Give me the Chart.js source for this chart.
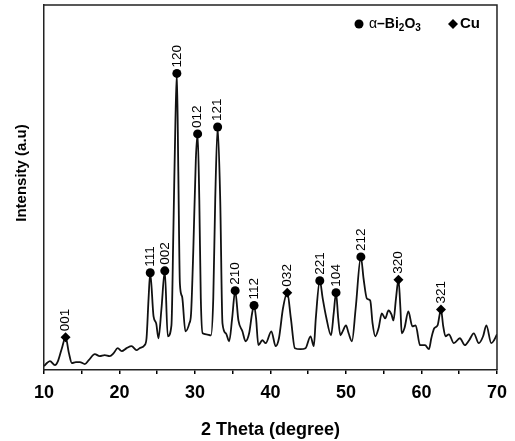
<!DOCTYPE html>
<html>
<head>
<meta charset="utf-8">
<script src="https://cdn.jsdelivr.net/npm/chart.js@4.4.1/dist/chart.umd.min.js"></script>
<style>
  html, body { margin: 0; padding: 0; background: #fff; }
  #box { width: 515px; height: 441px; }
</style>
</head>
<body>
<div id="box"><canvas id="xrd"></canvas></div>
<script>
const twoTheta = [
  10.00, 10.40, 10.79, 11.45, 11.85, 12.37, 12.86, 13.30, 13.69, 14.22,
  14.75, 15.41, 15.93, 16.73, 17.38, 18.04, 18.70, 19.23, 19.76, 20.29,
  20.95, 21.60, 22.26, 22.66, 23.32, 23.58, 23.85, 24.07, 24.51, 24.86,
  25.16, 25.56, 26.00, 26.39, 26.88, 27.14, 27.41, 27.60, 27.79, 28.00,
  28.29, 28.73, 29.25, 29.48, 29.78, 30.11, 30.35, 30.57, 30.77, 31.01,
  31.50, 32.12, 32.42, 32.68, 33.00, 33.34, 33.64, 34.09, 34.53, 34.92,
  35.32, 35.75, 36.28, 36.70, 37.17, 37.56, 37.82, 38.09, 38.39, 38.92,
  39.37, 40.11, 40.69, 41.12, 41.65, 42.22, 42.70, 43.23, 43.98, 44.64,
  45.30, 45.74, 46.00, 46.53, 46.92, 47.36, 48.02, 48.37, 48.68, 48.97,
  49.26, 49.56, 50.00, 50.35, 50.79, 51.28, 51.97, 52.33, 52.77, 53.21,
  53.52, 53.87, 54.31, 54.74, 55.19, 55.63, 56.02, 56.29, 56.62, 56.95,
  57.21, 57.38, 57.74, 58.26, 58.79, 59.23, 59.81, 60.47, 60.99, 61.30,
  61.69, 62.13, 62.58, 62.88, 63.18, 63.63, 64.29, 65.08, 65.74, 66.31,
  66.93, 67.59, 68.16, 68.59, 69.25, 69.61, 70.00
];
const intensity = [
  4, 7, 9, 5, 9, 22, 33, 17, 7, 8,
  8, 6, 10, 16, 14, 15, 14, 17, 22, 19,
  22, 24, 20, 22, 25, 32, 72, 98, 54, 47,
  32, 62, 100, 34, 45, 142, 252, 299, 200, 87,
  74, 39, 47, 57, 122, 212, 238, 172, 72, 37,
  36, 35, 72, 172, 245, 172, 47, 37, 29, 52,
  80, 50, 39, 29, 37, 57, 65, 52, 25, 30,
  27, 39, 24, 32, 62, 78, 52, 22, 21, 22,
  34, 24, 52, 90, 72, 54, 35, 57, 78, 52,
  35, 39, 45, 37, 29, 62, 114, 92, 72, 70,
  47, 34, 42, 57, 52, 60, 56, 50, 72, 91,
  62, 37, 42, 59, 44, 45, 25, 25, 21, 32,
  42, 45, 61, 44, 34, 36, 27, 32, 25, 30,
  37, 27, 34, 45, 27, 30, 36
];

// alpha-Bi2O3 reflections (circles)
const biAngles = [24.07, 26.00, 27.60, 30.35, 33.00, 35.32, 37.82, 46.53, 48.68, 51.97];
const biHeights = [98, 100, 299, 238, 245, 80, 65, 90, 78, 114];
const biLabels = ["111", "002", "120", "012", "121", "210", "112", "221", "104", "212"];

// Cu reflections (diamonds)
const cuAngles = [12.86, 42.22, 56.95, 62.58];
const cuHeights = [33, 78, 91, 61];
const cuLabels = ["001", "032", "320", "321"];

const xTickLabels = [10, 20, 30, 40, 50, 60, 70];

const fonte = '"Liberation Sans", Arial, sans-serif';

const toPoints = (xs, ys) => xs.map((x, i) => ({ x, y: ys[i] }));

// peak labels, rotated, sitting on top of each marker
const peakLabels = {
  id: "peakLabels",
  afterDatasetsDraw(chart) {
    const ctx = chart.ctx;
    const sets = [[1, biLabels], [2, cuLabels]];
    ctx.save();
    ctx.fillStyle = "#000";
    ctx.font = `13.5px ${fonte}`;
    ctx.textAlign = "left";
    ctx.textBaseline = "middle";
    for (const [idx, labels] of sets) {
      chart.getDatasetMeta(idx).data.forEach((pt, i) => {
        ctx.save();
        ctx.translate(pt.x, pt.y - 6);
        ctx.rotate(-Math.PI / 2);
        ctx.fillText(labels[i], 0, 0);
        ctx.restore();
      });
    }
    ctx.restore();
  }
};

// frame, y title and legend
const extras = {
  id: "extras",
  afterDraw(chart) {
    const { ctx, chartArea: a } = chart;
    ctx.save();
    ctx.strokeStyle = "#222";
    ctx.lineWidth = 1.5;
    ctx.beginPath();
    ctx.moveTo(a.left, a.top);
    ctx.lineTo(a.right, a.top);
    ctx.lineTo(a.right, a.bottom);
    ctx.stroke();

    ctx.fillStyle = "#000";
    ctx.translate(22, 173);
    ctx.rotate(-Math.PI / 2);
    ctx.textAlign = "center";
    ctx.textBaseline = "middle";
    ctx.font = `bold 15px ${fonte}`;
    ctx.fillText("Intensity (a.u)", 0, 0);
    ctx.restore();

    // legend
    ctx.save();
    ctx.fillStyle = "#000";
    const ly = a.top + 19;
    ctx.beginPath();
    ctx.arc(a.right - 138, ly, 4.5, 0, Math.PI * 2);
    ctx.fill();
    ctx.textBaseline = "middle";
    ctx.textAlign = "left";
    let x = a.right - 128;
    const parts = [
      ["α", `14px ${fonte}`, 0],
      ["–Bi", `bold 14px ${fonte}`, 0],
      ["2", `bold 10px ${fonte}`, 4],
      ["O", `bold 14px ${fonte}`, 0],
      ["3", `bold 10px ${fonte}`, 4]
    ];
    for (const [t, f, dy] of parts) {
      ctx.font = f;
      ctx.fillText(t, x, ly + dy);
      x += ctx.measureText(t).width;
    }
    const dx = a.right - 44;
    ctx.beginPath();
    ctx.moveTo(dx, ly - 5);
    ctx.lineTo(dx + 5, ly);
    ctx.lineTo(dx, ly + 5);
    ctx.lineTo(dx - 5, ly);
    ctx.closePath();
    ctx.fill();
    ctx.font = `bold 15px ${fonte}`;
    ctx.fillText("Cu", a.right - 37, ly);
    ctx.restore();
  }
};

new Chart(document.getElementById("xrd").getContext("2d"), {
  type: "line",
  data: {
    datasets: [
      {
        label: "XRD",
        data: toPoints(twoTheta, intensity),
        borderColor: "#111",
        borderWidth: 1.8,
        pointRadius: 0,
        cubicInterpolationMode: "monotone",
        fill: false,
        order: 2
      },
      {
        label: "α-Bi2O3",
        type: "scatter",
        data: toPoints(biAngles, biHeights),
        pointStyle: "circle",
        pointRadius: 4.5,
        backgroundColor: "#000",
        borderColor: "#000",
        borderWidth: 0,
        order: 1
      },
      {
        label: "Cu",
        type: "scatter",
        data: toPoints(cuAngles, cuHeights),
        pointStyle: "rectRot",
        pointRadius: 5,
        backgroundColor: "#000",
        borderColor: "#000",
        borderWidth: 0,
        order: 0
      }
    ]
  },
  options: {
    responsive: true,
    maintainAspectRatio: false,
    animation: false,
    layout: { padding: { left: 44, right: 16, top: 4, bottom: 0 } },
    plugins: {
      legend: { display: false },
      tooltip: { enabled: false }
    },
    scales: {
      x: {
        type: "linear",
        min: 10,
        max: 70,
        ticks: {
          stepSize: 5,
          autoSkip: false,
          maxRotation: 0,
          padding: 8,
          color: "#000",
          font: { family: fonte, size: 18, weight: "bold" },
          callback: v => (xTickLabels.includes(v) ? v : "")
        },
        grid: {
          display: true,
          drawOnChartArea: false,
          drawTicks: true,
          tickLength: 4,
          color: "#000",
          lineWidth: 1.5
        },
        border: { display: true, color: "#222", width: 1.5 },
        title: {
          display: true,
          text: "2 Theta (degree)",
          color: "#000",
          font: { family: fonte, size: 18, weight: "bold" },
          padding: { top: 7.8, bottom: 0 }
        }
      },
      y: {
        min: 0,
        max: 368,
        ticks: { display: false },
        grid: { display: false, drawTicks: false },
        border: { display: true, color: "#222", width: 1.5 },
        title: { display: false }
      }
    }
  },
  plugins: [peakLabels, extras]
});
</script>
</body>
</html>
